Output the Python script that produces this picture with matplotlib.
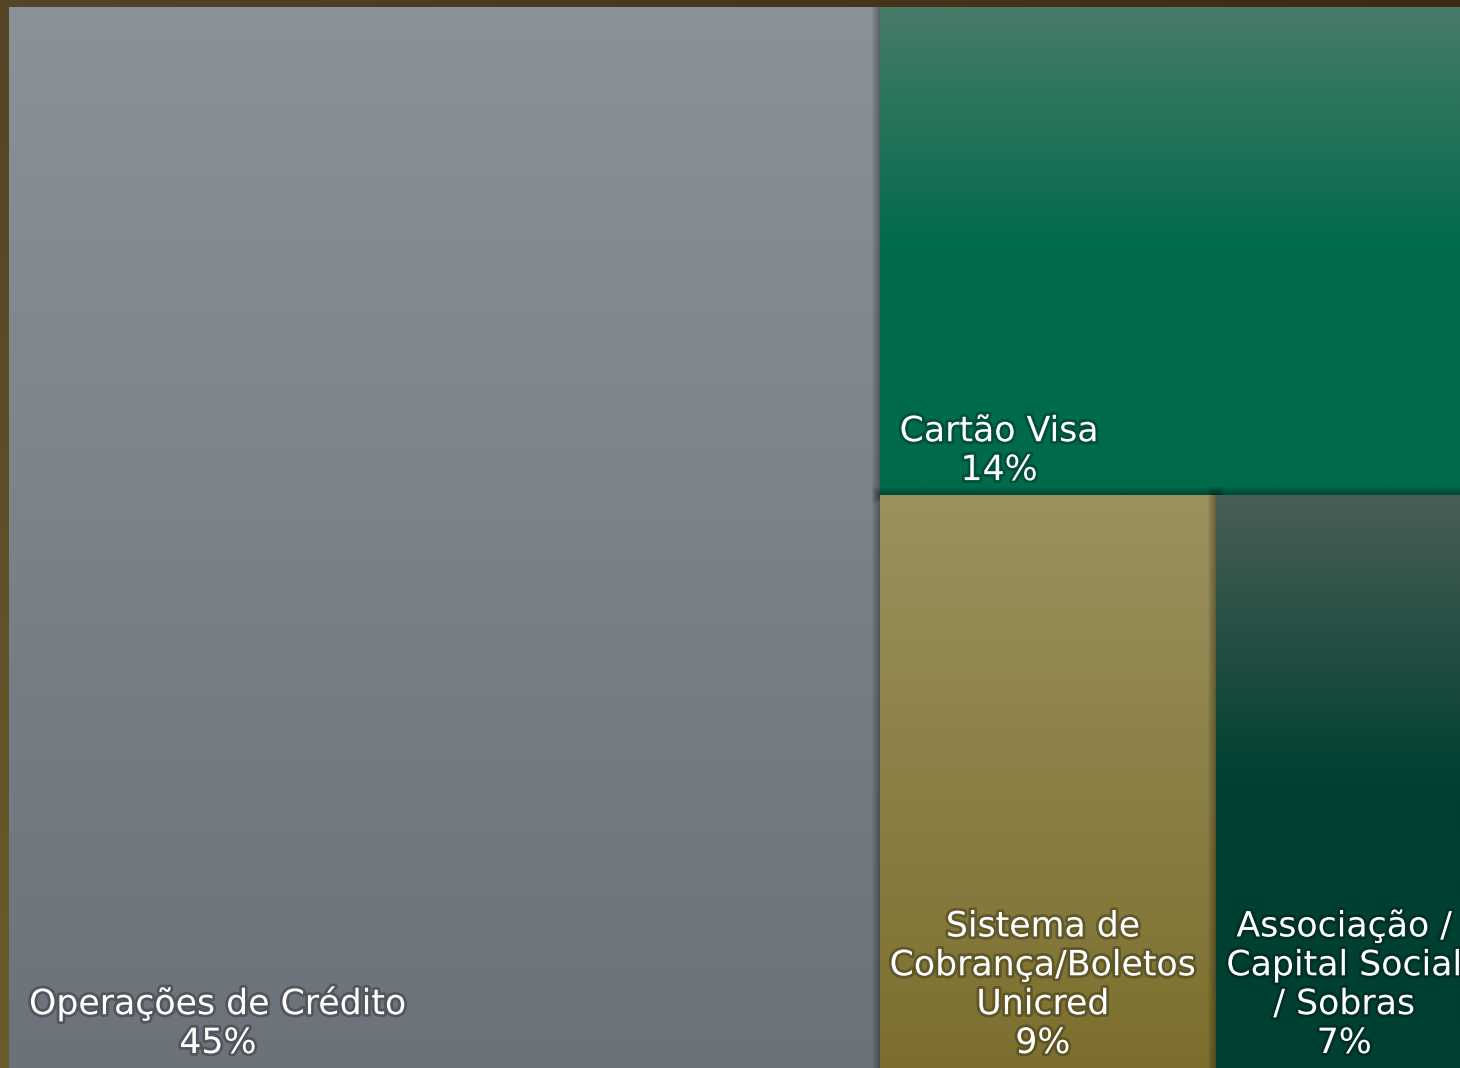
import matplotlib.pyplot as plt
import matplotlib.patheffects as pe
from matplotlib.patches import Rectangle
from matplotlib.colors import to_rgb
import numpy as np

# dados do treemap (percentuais estimados)
categorias = ['Operações de Crédito', 'Cartão Visa',
              'Sistema de\nCobrança/Boletos\nUnicred',
              'Associação /\nCapital Social\n/ Sobras']
valores = [45, 13.8, 9.4, 6.8]
rotulos = ['45%', '14%', '9%', '7%']

# cores (topo -> base do gradiente)
cor_topo = ['#8a9199', '#487c68', '#9a915e', '#4a5e56']
cor_base = ['#6b727a', '#006a4c', '#7c6f2e', '#004032']
parada = [1.0, 0.5, 1.0, 0.5]

W, H = 1451, 1061


def layout(vals, x, y, w, h, vertical=True):
    if not vals:
        return []
    frac = vals[0] / sum(vals)
    if vertical:
        w0 = w * frac
        return [(x, y, w0, h)] + layout(vals[1:], x + w0, y, w - w0, h, False)
    h0 = h * frac
    return [(x, y, w, h0)] + layout(vals[1:], x, y + h0, w, h - h0, True)


fig = plt.figure(figsize=(14.6, 10.68), dpi=100)

# fundo marrom/oliva
bg = fig.add_axes([0, 0, 1, 1])
bg.set_axis_off()
tl, tr = np.array(to_rgb('#534525')), np.array(to_rgb('#3b2a14'))
bl, br = np.array(to_rgb('#6b5b2c')), np.array(to_rgb('#5a4a22'))
u = np.linspace(0, 1, 50)[None, :, None]
v = np.linspace(0, 1, 50)[:, None, None]
img = (1 - v) * ((1 - u) * tl + u * tr) + v * ((1 - u) * bl + u * br)
bg.imshow(img, extent=(0, 1, 0, 1), aspect='auto', origin='upper')
bg.set_xlim(0, 1)
bg.set_ylim(0, 1)

ax = fig.add_axes([9 / 1460, 0, 1451 / 1460, 1061 / 1068])
ax.set_xlim(0, W)
ax.set_ylim(H, 0)
ax.set_axis_off()

retangulos = layout(valores, 0, 0, W, H)
z = 1
for i, (x, y, w, h) in enumerate(retangulos):
    # sombra
    for k in range(1, 9):
        ax.add_patch(Rectangle((x - k, y - k), w + 2 * k, h + 2 * k,
                               facecolor='black', edgecolor='none',
                               alpha=0.045, zorder=z))
    z += 1
    t = np.clip(np.linspace(0, 1, 300) / parada[i], 0, 1)[:, None, None]
    grad = (1 - t) * np.array(to_rgb(cor_topo[i])) + t * np.array(to_rgb(cor_base[i]))
    ax.imshow(grad, extent=(x, x + w, y + h, y), aspect='auto',
              origin='upper', zorder=z)
    z += 1

    pad = 20 if w > 400 else 10
    ax.text(x + pad, y + h - 8, categorias[i] + '\n' + rotulos[i],
            ha='left', va='bottom', multialignment='center',
            fontsize=25, color='white', linespacing=1.18, zorder=100,
            path_effects=[pe.withStroke(linewidth=4, foreground='black', alpha=0.25)])

ax.set_xlim(0, W)
ax.set_ylim(H, 0)

plt.savefig('out.png', dpi=100)
